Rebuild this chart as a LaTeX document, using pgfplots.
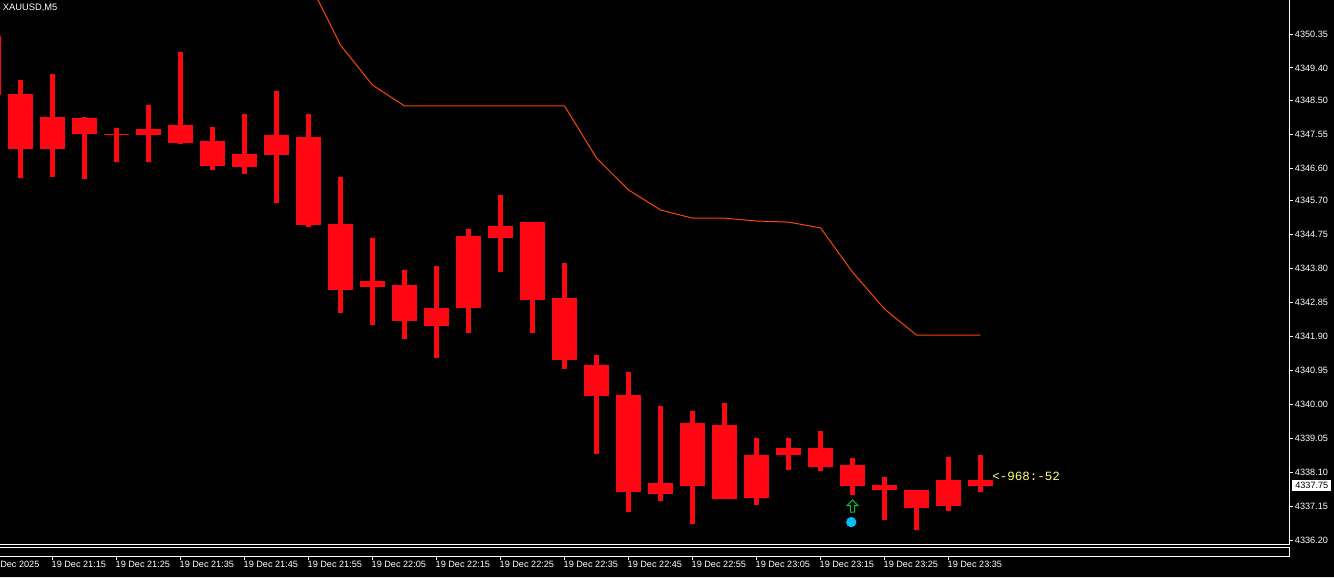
\documentclass[border=0pt]{standalone}
\usepackage{fontspec}
\setmainfont{Liberation Sans}
\newfontfamily\monofont{Liberation Mono}
\usepackage{pgfplots}
\usepackage{pgfplotstable}
\pgfplotsset{compat=1.18}

\definecolor{candle}{HTML}{FF0612}
\definecolor{maline}{HTML}{FF4500}
\definecolor{arrowgreen}{HTML}{00C040}
\definecolor{dotblue}{HTML}{00BFFF}
\definecolor{tagyellow}{HTML}{FFFF66}
\definecolor{winedge}{HTML}{F0F0F0}

% 1 px of the screenshot = 0.75pt
\pgfdeclareplotmark{hollowup}{%
  \pgfpathmoveto{\pgfqpoint{0pt}{4.5pt}}%
  \pgfpathlineto{\pgfqpoint{4pt}{0.4pt}}%
  \pgfpathlineto{\pgfqpoint{1.6pt}{0.4pt}}%
  \pgfpathlineto{\pgfqpoint{1.6pt}{-4.5pt}}%
  \pgfpathlineto{\pgfqpoint{-1.6pt}{-4.5pt}}%
  \pgfpathlineto{\pgfqpoint{-1.6pt}{0.4pt}}%
  \pgfpathlineto{\pgfqpoint{-4pt}{0.4pt}}%
  \pgfpathclose
  \pgfusepathqstroke
}

% bar 0 = 19 Dec 21:10, one bar every 5 minutes
\pgfplotstableread{
i   hi      top     bot     lo
-1  4350.29 4350.29 4348.64 4348.64
0   4349.06 4348.67 4347.13 4346.32
1   4349.23 4348.03 4347.13 4346.35
2   4348.03 4348.00 4347.55 4346.30
3   4347.72 4347.55 4347.53 4346.77
4   4348.36 4347.69 4347.53 4346.77
5   4349.85 4347.81 4347.30 4347.27
6   4347.75 4347.36 4346.66 4346.55
7   4348.11 4347.00 4346.63 4346.44
8   4348.76 4347.53 4346.97 4345.62
9   4348.11 4347.47 4345.01 4344.95
10  4346.35 4345.04 4343.19 4342.55
11  4344.65 4343.44 4343.28 4342.21
12  4343.75 4343.33 4342.32 4341.82
13  4343.86 4342.69 4342.18 4341.29
14  4344.90 4344.70 4342.69 4341.99
15  4345.85 4344.98 4344.65 4343.69
16  4345.09 4345.09 4342.91 4341.99
17  4343.95 4342.97 4341.23 4340.98
18  4341.37 4341.09 4340.23 4338.61
19  4340.90 4340.25 4337.54 4336.98
20  4339.95 4337.79 4337.49 4337.29
21  4339.81 4339.47 4337.71 4336.65
22  4340.03 4339.42 4337.35 4337.35
23  4339.05 4338.58 4337.38 4337.18
24  4339.05 4338.77 4338.58 4338.16
25  4339.25 4338.77 4338.24 4338.13
26  4338.49 4338.30 4337.71 4337.46
27  4337.96 4337.74 4337.60 4336.76
28  4337.60 4337.60 4337.10 4336.48
29  4338.52 4337.88 4337.15 4337.01
30  4338.58 4337.88 4337.71 4337.54
}\candles

\pgfplotsset{
  mtaxis/.style={
    scale only axis,
    width=967.125pt,
    xmin=-0.640625, xmax=39.65625,
    clip mode=individual,
    tick align=outside,
    major tick length=2.25pt,
    tick style={white, line width=0.75pt},
    axis line style={white, line width=0.75pt},
    tick label style={font=\fontsize{6.85pt}{8pt}\selectfont, text=white},
  },
}

\begin{document}
\begin{tikzpicture}
\useasboundingbox (0,0) rectangle (1000.5pt,433.5pt);
\fill[black] (0,0) rectangle (1000.5pt,433.5pt);
\fill[winedge] (0,0) rectangle (1000.5pt,0.75pt);

% price window
\begin{axis}[
    mtaxis,
    at={(0pt,25.125pt)}, anchor=south west,
    height=408.375pt,
    ymin=4336.0747, ymax=4351.301,
    axis x line*=bottom,
    axis y line*=right,
    xtick=\empty,
    ytick={4336.20,4337.15,4338.10,4339.05,4340.00,4340.95,4341.90,4342.85,4343.80,4344.75,4345.70,4346.60,4347.55,4348.50,4349.40,4350.35},
    yticklabel style={anchor=west, inner sep=0pt, xshift=1.6pt,
      /pgf/number format/.cd, fixed, fixed zerofill, precision=2, 1000 sep={}, assume math mode=true},
]
% wicks
\addplot[draw=none, mark=none, forget plot,
    error bars/.cd, y dir=minus, y explicit, error mark=none,
    error bar style={draw=candle, line width=3.75pt}]
  table[x=i, y=hi, y error expr=\thisrow{hi}-\thisrow{lo}] {\candles};
% bodies
\addplot[draw=none, mark=none, forget plot,
    error bars/.cd, y dir=minus, y explicit, error mark=none,
    error bar style={draw=candle, line width=18.75pt}]
  table[x=i, y=top, y error expr=\thisrow{top}-\thisrow{bot}] {\candles};
% moving average
\addplot[maline, line width=0.75pt] coordinates {
  (9,4351.83) (10,4350.04) (11,4348.92) (12,4348.34) (13,4348.34) (14,4348.34)
  (15,4348.34) (16,4348.34) (17,4348.34) (18,4346.88) (19,4345.99) (20,4345.43)
  (21,4345.20) (22,4345.20) (23,4345.12) (24,4345.09) (25,4344.93) (26,4343.69)
  (27,4342.66) (28,4341.93) (29,4341.93) (30,4341.93)
};
% signal markers
\addplot[only marks, mark=hollowup, mark options={draw=arrowgreen, line width=0.75pt}]
  coordinates {(26,4337.15)};
\addplot[only marks, mark=*, mark size=4.2pt, mark options={fill=dotblue, draw=none}]
  coordinates {(25.96,4336.70)};

\node[anchor=north west, inner sep=0pt, text=white, font=\fontsize{7pt}{8pt}\selectfont]
  at (rel axis cs:0,1) [xshift=2pt, yshift=-3pt] {XAUUSD,M5};
\node[anchor=west, inner sep=0pt, text=tagyellow, font=\fontsize{9.4pt}{10pt}\monofont]
  at (axis cs:30.36,4337.99) {<-968:-52};
\node[anchor=west, fill=white, text=black, inner sep=0pt, minimum width=29pt, minimum height=8pt,
    font=\fontsize{6.85pt}{8pt}\selectfont]
  at (axis cs:39.65625,4337.72) [xshift=2pt] {4337.75};
\end{axis}

% empty lower strip that carries the time scale
\begin{axis}[
    mtaxis,
    at={(0pt,16.125pt)}, anchor=south west,
    height=7.125pt,
    ymin=0, ymax=1,
    axis x line*=box,
    axis y line*=right,
    ytick=\empty,
    xtick pos=lower,
    xtick={1,3,...,29},
    xticklabels={19 Dec 21:15,19 Dec 21:25,19 Dec 21:35,19 Dec 21:45,19 Dec 21:55,
      19 Dec 22:05,19 Dec 22:15,19 Dec 22:25,19 Dec 22:35,19 Dec 22:45,19 Dec 22:55,
      19 Dec 23:05,19 Dec 23:15,19 Dec 23:25,19 Dec 23:35},
    xticklabel style={anchor=north west, inner sep=0pt, xshift=-0.8pt, yshift=-0.8pt},
]
\node[anchor=north west, inner sep=0pt, text=white, font=\fontsize{6.85pt}{8pt}\selectfont]
  at (rel axis cs:0,0) [yshift=-3.05pt] {Dec 2025};
\end{axis}
\end{tikzpicture}
\end{document}
